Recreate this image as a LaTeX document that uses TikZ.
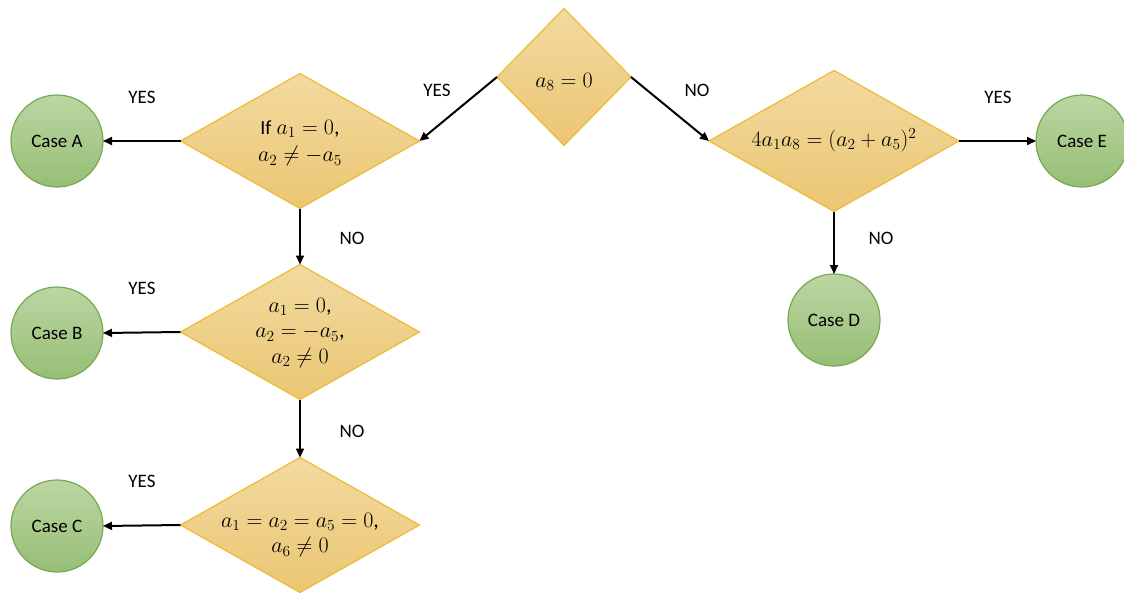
\RequirePackage{fix-cm}
\documentclass[tikz,border=0pt]{standalone}
\usepackage{fontspec}
\setmainfont{Carlito}
\usetikzlibrary{shapes.geometric,arrows.meta}
\definecolor{dtop}{HTML}{F2DA9F}
\definecolor{dbot}{HTML}{EBC673}
\definecolor{dline}{HTML}{EDBB3A}
\definecolor{ctop}{HTML}{BCD6A3}
\definecolor{cbot}{HTML}{96BE75}
\definecolor{cline}{HTML}{78A852}
\tikzset{
  dia/.style={diamond, draw=dline, line width=1.2pt, top color=dtop, bottom color=dbot, inner sep=0pt, outer sep=0pt},
  casec/.style={circle, draw=cline, line width=1.2pt, top color=ctop, bottom color=cbot, minimum size=92pt, inner sep=0pt, outer sep=0pt, font=\fontsize{19}{22}\selectfont},
  mtext/.style={align=center, font=\fontsize{22}{25.5}\selectfont},
  lbl/.style={font=\fontsize{19}{22}\selectfont},
  arr/.style={line width=2pt, -{Triangle[length=9pt,width=8pt]}},
}
\begin{document}
\begin{tikzpicture}[x=1pt,y=-1pt]
\useasboundingbox (0,0) rectangle (1124,594);
% diamonds
\node[dia, minimum width=134pt, minimum height=137pt] (d0) at (564,77) {};
\node[mtext] (t0) at ([yshift=-5pt]d0.center) {$a_8 = 0$};
\node[dia, minimum width=239pt, minimum height=135pt] (d1) at (300,141) {};
\node[mtext] (t1) at ([yshift=-2pt]d1.center) {{\fontsize{20}{25}\selectfont If} $a_1 = 0$,\\[2pt] $a_2 \neq -a_5$};
\node[dia, minimum width=239pt, minimum height=135pt] (d2) at (300,332) {};
\node[mtext] (t2) at ([yshift=-1pt]d2.center) {$a_1 = 0$,\\ $a_2 = -a_5$,\\ $a_2 \neq 0$};
\node[dia, minimum width=239pt, minimum height=135pt] (d3) at (300,525) {};
\node[mtext] (t3) at ([yshift=-10pt]d3.center) {$a_1 = a_2 = a_5 = 0$,\\ $a_6 \neq 0$};
\node[dia, minimum width=250pt, minimum height=141pt] (d4) at (834,141) {};
\node[mtext] (t4) at ([yshift=1pt]d4.center) {$4a_1a_8 = (a_2 + a_5)^2$};
% cases
\node[casec] (ca) at (57,141) {Case A};
\node[casec] (cb) at (57,333) {Case B};
\node[casec] (cc) at (57,526) {Case C};
\node[casec] (cd) at (834,320) {Case D};
\node[casec] (ce) at (1082,141) {Case E};
% arrows
\draw[arr] (d0.west) -- (d1.east);
\draw[arr] (d0.east) -- (d4.west);
\draw[arr] (d1.west) -- (ca.east);
\draw[arr] (d2.west) -- (cb.east);
\draw[arr] (d3.west) -- (cc.east);
\draw[arr] (d1.south) -- (d2.north);
\draw[arr] (d2.south) -- (d3.north);
\draw[arr] (d4.south) -- (cd.north);
\draw[arr] (d4.east) -- (ce.west);
% labels
\node[lbl] (l1) at (437,90) {YES};
\node[lbl] (l2) at (697,90) {NO};
\node[lbl] (l3) at (142,97) {YES};
\node[lbl] (l4) at (352,238) {NO};
\node[lbl] (l5) at (142,288) {YES};
\node[lbl] (l6) at (352,431) {NO};
\node[lbl] (l7) at (142,481) {YES};
\node[lbl] (l8) at (881,238) {NO};
\node[lbl] (l9) at (998,97) {YES};
\end{tikzpicture}
\end{document}
